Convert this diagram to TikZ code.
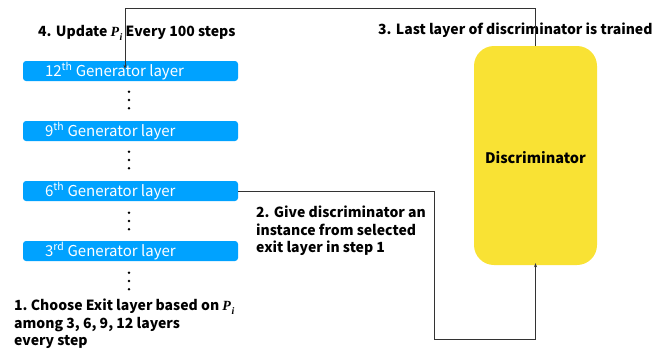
\documentclass[tikz,border=0pt]{standalone}
\usepackage{fontspec}
\setmainfont{Noto Sans CJK KR}
\newfontfamily\pserif{Liberation Serif}
\usetikzlibrary{arrows.meta}
\definecolor{genblue}{RGB}{0,162,255}
\definecolor{discyellow}{RGB}{249,226,52}
\newcommand{\pii}{{\pserif\bfseries\itshape P\kern0.5pt\raisebox{-0.25em}{\fontsize{10}{10}\selectfont i}}}
\begin{document}
\begin{tikzpicture}[x=1pt,y=-1pt,
  genbox/.style={fill=genblue,rounded corners=3pt,minimum width=215pt,minimum height=20pt,inner sep=0pt,text=white,font=\fontsize{15}{16}\selectfont},
  lbl/.style={font=\bfseries\fontsize{14}{17.5}\selectfont,inner sep=0pt,align=left,anchor=west},
  conn/.style={draw=black!80,line width=0.7pt},
  tip/.style={-{Stealth[length=4pt,width=3pt]}},
  dot/.style={circle,fill=black,inner sep=0pt,minimum size=2.8pt}]
\useasboundingbox (0,0) rectangle (655,349);
\node[genbox] (g12) at (130.5,71) {\hspace*{-85.5pt}\makebox[0pt][l]{12\textsuperscript{th} Generator layer}\hspace*{85.5pt}};
\node[genbox] (g9) at (130.5,131) {\hspace*{-85.5pt}\makebox[0pt][l]{9\textsuperscript{th} Generator layer}\hspace*{85.5pt}};
\node[genbox] (g6) at (130.5,191) {\hspace*{-85.5pt}\makebox[0pt][l]{6\textsuperscript{th} Generator layer}\hspace*{85.5pt}};
\node[genbox] (g3) at (130.5,251) {\hspace*{-85.5pt}\makebox[0pt][l]{3\textsuperscript{rd} Generator layer}\hspace*{85.5pt}};
\foreach \n/\y in {d1/100, d2/160, d3/221, d4/281}{
  \node[dot] (\n a) at (129,\y-8.3) {};
  \node[dot] (\n b) at (129,\y) {};
  \node[dot] (\n c) at (129,\y+8.3) {};
}
\node[fill=discyellow,rounded corners=20pt,minimum width=123pt,minimum height=219pt,inner sep=0pt] (disc) at (535.5,155.5) {};
\node[font=\bfseries\fontsize{14.5}{16}\selectfont,inner sep=0pt] (disclbl) at (535.5,157.5) {Discriminator};
\node[lbl] (t4) at (38,33) {4. Update \pii{} Every 100 steps};
\node[lbl] (t3) at (378,30) {3. Last layer of discriminator is trained};
\node[lbl,anchor=north west] (t2) at (256,206) {2. Give discriminator an\\instance from selected\\exit layer in step 1};
\node[lbl,anchor=north west] (t1) at (14,299) {1.\ Choose Exit layer based on \pii\\among 3, 6, 9, 12 layers\\every step};
\coordinate (top) at (125,8);
\coordinate (bot) at (434,339);
\draw[conn,tip] (disc.north) |- (top) -- ([yshift=-8pt]g12.north -| top);
\draw[conn,tip] (g6.east) -| (bot) -| ([yshift=2pt]disc.south);
\end{tikzpicture}
\end{document}
